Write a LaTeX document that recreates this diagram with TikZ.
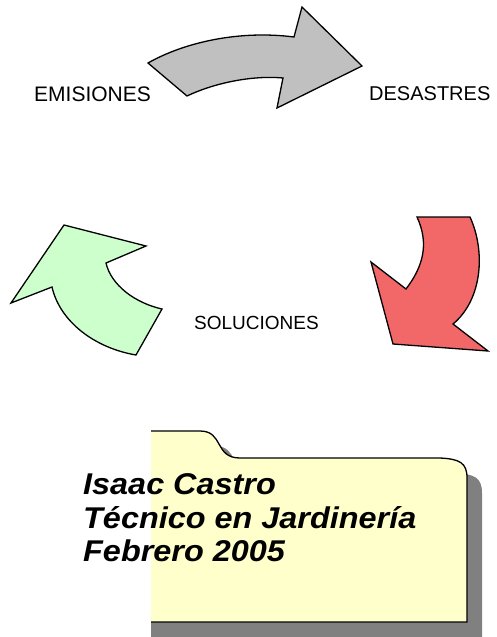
\documentclass[tikz,border=0pt]{standalone}
\usepackage{fontspec}
\setmainfont{Liberation Sans}
\definecolor{arrgray}{HTML}{C0C0C0}
\definecolor{arrred}{HTML}{F26868}
\definecolor{arrgreen}{HTML}{CCFFCC}
\definecolor{foldfill}{HTML}{FFFFCC}
\definecolor{shadowgray}{HTML}{808080}
\newcommand{\authline}[1]{\scalebox{1.08}[1]{#1}}
\begin{document}
\begin{tikzpicture}[x=1pt,y=-1pt,
  bigarrow/.style={draw=black,line width=1.3pt,line join=miter},
  label/.style={anchor=west,inner sep=0pt,font=\fontsize{20}{22}\selectfont},
  author/.style={anchor=base west,inner sep=0pt,font=\fontsize{30}{33}\selectfont\bfseries\itshape}]
\useasboundingbox (0,0) rectangle (497,637);
% gray arrow
\draw[bigarrow,fill=arrgray] (148,63) -- (187,96) .. controls (212,84) and (250,75) .. (283,78)
  -- (277,108) -- (362,66) -- (302,7) -- (294,37)
  .. controls (240,30) and (185,42) .. cycle;
% red arrow
\draw[bigarrow,fill=arrred] (417,217) -- (470,217) .. controls (486,252) and (482,300) .. (453,324)
  -- (488,351) -- (393,344) -- (371,262) -- (406,289)
  .. controls (422,268) and (430,245) .. cycle;
% green arrow
\draw[bigarrow,fill=arrgreen] (64,225) -- (146,246) -- (106,263)
  .. controls (111,285) and (135,303) .. (162,309)
  -- (136,355) .. controls (95,348) and (60,322) .. (52,287)
  -- (11,303) -- cycle;
% labels
\node[label,font=\fontsize{21}{22}\selectfont] (emi) at (34,94) {EMISIONES};
\node[label] (des) at (369,94) {DESASTRES};
\node[label,font=\fontsize{19}{22}\selectfont] (sol) at (194,323) {SOLUCIONES};
% folder shadow
\begin{scope}
\clip (151,0) rectangle (497,637);
\fill[shadowgray,shift={(15,15)}] (136,431) -- (200,431) .. controls (224,431) and (214,458) .. (240,458)
  -- (440,458) .. controls (460,459) and (467,463) .. (467,478) -- (467,622) -- (136,622) -- cycle;
\end{scope}
% folder
\fill[foldfill] (151,431) -- (200,431) .. controls (224,431) and (214,458) .. (240,458)
  -- (440,458) .. controls (460,459) and (467,463) .. (467,478) -- (467,622) -- (151,622) -- cycle;
\draw[line width=1.3pt] (151,431) -- (200,431) .. controls (224,431) and (214,458) .. (240,458)
  -- (440,458) .. controls (460,459) and (467,463) .. (467,478) -- (467,622) -- (151,622);
\node[author] (l1) at (83,494) {\authline{Isaac Castro}};
\node[author] (l2) at (83,528) {\authline{Técnico en Jardinería}};
\node[author] (l3) at (83,561) {\authline{Febrero 2005}};
\end{tikzpicture}
\end{document}
